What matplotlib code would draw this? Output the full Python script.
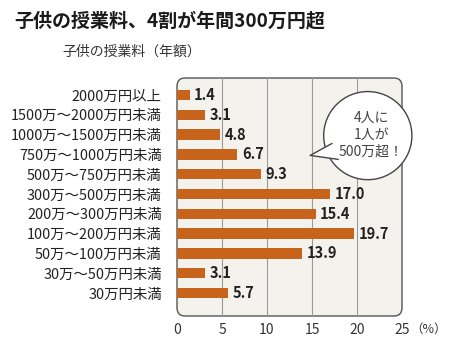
import matplotlib.pyplot as plt
from matplotlib.patches import FancyBboxPatch, Ellipse, Polygon

plt.rcParams['font.family'] = ['Noto Sans CJK JP', 'DejaVu Sans']

categories = ["2000万円以上", "1500万～2000万円未満", "1000万～1500万円未満",
              "750万～1000万円未満", "500万～750万円未満", "300万～500万円未満",
              "200万～300万円未満", "100万～200万円未満", "50万～100万円未満",
              "30万～50万円未満", "30万円未満"]
values = [1.4, 3.1, 4.8, 6.7, 9.3, 17.0, 15.4, 19.7, 13.9, 3.1, 5.7]
xticks = [0, 5, 10, 15, 20, 25]

bar_color = "#c8631b"
text_dark = "#222222"

fig = plt.figure(figsize=(4.5, 3.47), dpi=100)
ax = fig.add_axes([177 / 450, 1 - 316 / 347, 225 / 450, 238 / 347])

# rounded background box
box = FancyBboxPatch((0, 0), 1, 1, boxstyle="round,pad=0,rounding_size=0.035",
                     transform=ax.transAxes, facecolor="#f3f2ed",
                     edgecolor="#555555", linewidth=1.0, zorder=0, clip_on=False)
ax.add_patch(box)

for x in xticks[1:-1]:
    ax.axvline(x, color="#9a9a9a", linewidth=0.8, zorder=1)

y = list(range(len(categories)))
ax.barh(y, values, height=0.52, color=bar_color, zorder=2)
for yi, v in zip(y, values):
    ax.text(v + 0.5, yi, f"{v:.1f}", va="center", ha="left",
            fontsize=10.5, fontweight="bold", color=text_dark, zorder=3)

ax.set_xlim(0, 25)
ax.set_ylim(11.16, -0.86)
for s in ax.spines.values():
    s.set_visible(False)
ax.set_facecolor("none")
ax.set_yticks(y)
ax.set_yticklabels(categories, fontsize=10.4, color=text_dark)
ax.set_xticks(xticks)
ax.set_xticklabels([str(t) for t in xticks], fontsize=10, color="#333333")
ax.tick_params(axis="both", length=0)
ax.tick_params(axis="y", pad=11)
ax.tick_params(axis="x", pad=5)
ax.text(25.9, -0.055, "（%）", transform=ax.get_xaxis_transform(),
        fontsize=9, color="#333333", ha="left", va="center")

# speech bubble
ell = Ellipse((21.2, 2.05), 9.8, 4.45, facecolor="white", edgecolor="#444444",
              linewidth=1.0, zorder=4, clip_on=False)
ax.add_patch(ell)
p1, p2, tip = (17.2, 2.45), (17.9, 3.25), (14.8, 3.05)
ax.add_patch(Polygon([p1, tip, p2], closed=True, facecolor="white",
                     edgecolor="none", zorder=5, clip_on=False))
ax.plot([p1[0], tip[0], p2[0]], [p1[1], tip[1], p2[1]], color="#444444",
        linewidth=1.0, zorder=6, clip_on=False)
ax.text(21.6, 2.0, "4人に\n1人が\n500万超！", ha="center", va="center",
        fontsize=10, color="#444444", linespacing=1.3, zorder=7)

fig.text(14 / 450, 1 - 21 / 347, "子供の授業料、4割が年間300万円超", fontsize=13.7,
         fontweight="bold", color="#1a1a1a", va="center", ha="left")
fig.text(62 / 450, 1 - 52 / 347, "子供の授業料（年額）", fontsize=10,
         color="#333333", va="center", ha="left")

fig.savefig("out.png", dpi=100)
